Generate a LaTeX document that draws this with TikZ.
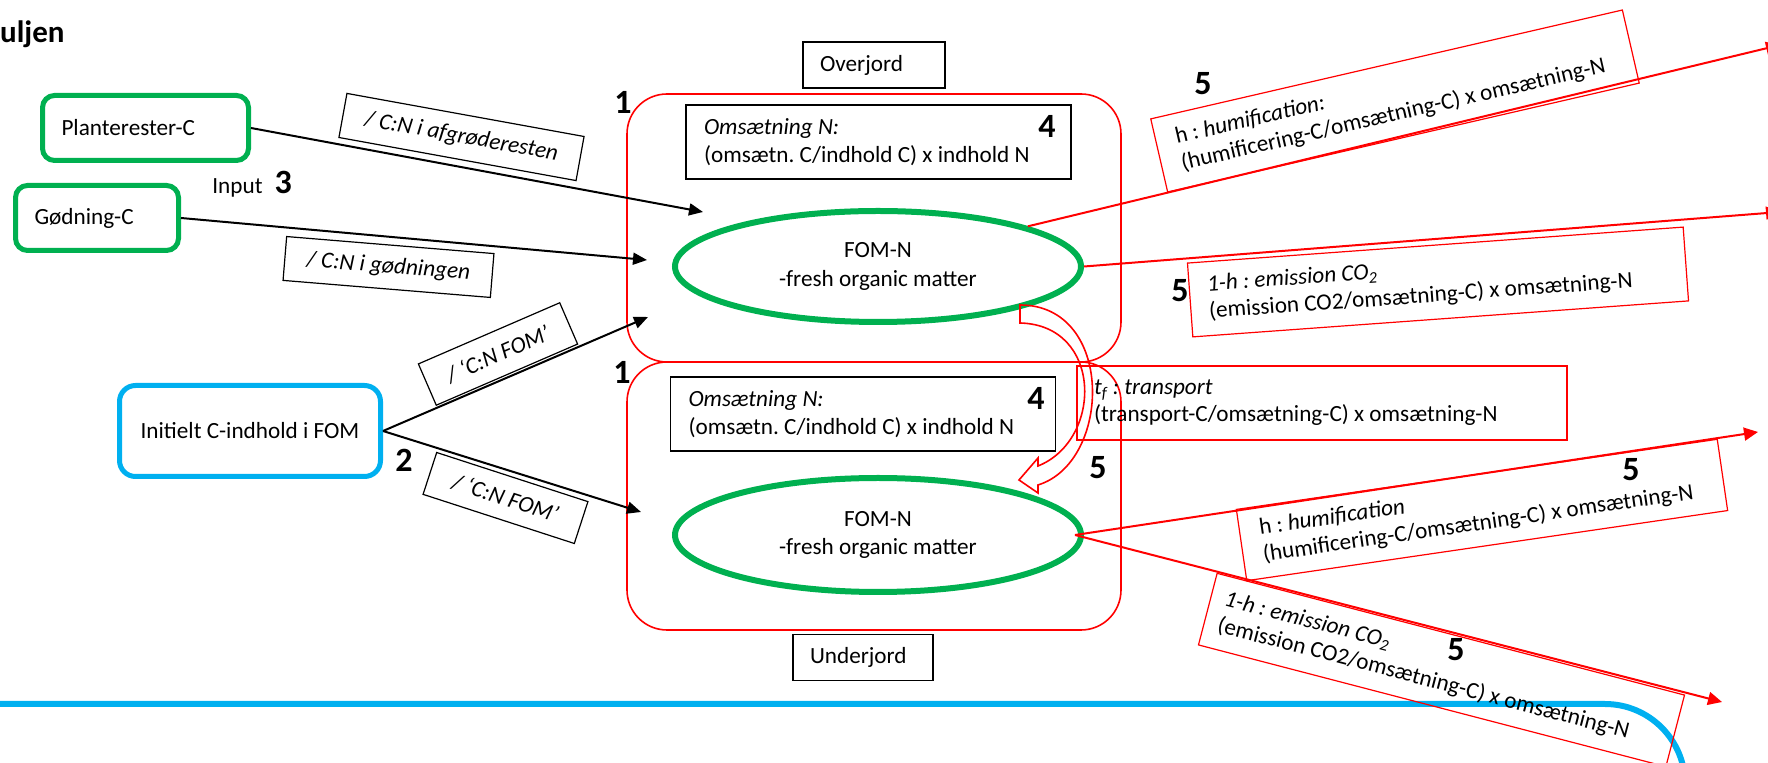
\documentclass[tikz,border=0pt]{standalone}
\usepackage{fontspec}
\setmainfont{Carlito}
\usetikzlibrary{shapes.geometric,arrows.meta}
\definecolor{ogreen}{RGB}{0,176,80}
\definecolor{oblue}{RGB}{0,176,240}
\definecolor{ored}{RGB}{255,0,0}
\frenchspacing
\newcommand{\fixw}[2]{\makebox[#1][l]{#2}}
\begin{document}
\begin{tikzpicture}[x=0.5pt,y=-0.5pt,
  every node/.style={font=\fontsize{11.6}{14}\selectfont},
  num/.style={font=\fontsize{17}{20}\selectfont\bfseries, inner sep=0pt},
  inbox/.style={draw=ogreen, line width=2.5pt, rounded corners=6pt, inner xsep=9.5pt, minimum height=32.5pt},
  lbl/.style={draw, line width=0.6pt, font=\fontsize{11.6}{14}\selectfont\itshape, minimum height=22pt, inner sep=2pt},
  rlbl/.style={draw=ored, line width=0.6pt, align=left, minimum height=37pt, font=\fontsize{11.6}{13.6}\selectfont},
  blk/.style={line width=1pt, -{Triangle[length=7pt,width=6pt]}},
  rarr/.style={ored, line width=1pt, -{Triangle[length=7pt,width=6.5pt]}},
  comp/.style={draw=ored, line width=0.8pt, rounded corners=20pt, minimum width=247pt, minimum height=134pt},
  fom/.style={ellipse, draw=ogreen, line width=3pt, minimum width=203pt, align=center, font=\fontsize{11.6}{14.2}\selectfont},
  omsbox/.style={draw, line width=0.7pt, align=left, inner xsep=9pt, minimum height=37pt, font=\fontsize{11.6}{14.2}\selectfont},
  soil/.style={draw, line width=0.9pt, inner xsep=8.5pt, minimum height=23pt}
]
\useasboundingbox (0,0) rectangle (1768,763);
\clip (0,0) rectangle (1768,763);

% blue frame line
\draw[oblue, line width=3pt, rounded corners=40pt] (-10,704) -- (1685,704) -- (1685,820);

% compartments
\node[comp] (top) at (874,228) {};
\node[comp] (bot) at (874,496) {};

\node[soil] (over) at (874,65) {\fixw{54pt}{Overjord}};
\node[soil] (under) at (863,657.5) {\fixw{53pt}{Underjord}};

\node[omsbox] (oms1) at (878.5,142) {\fixw{174.5pt}{\textit{Omsætning N:}}\\(omsætn. C/indhold C) x indhold N};
\node[omsbox] (oms2) at (863,414) {\fixw{174.5pt}{\textit{Omsætning N:}}\\(omsætn. C/indhold C) x indhold N};

\node[fom, minimum height=55.5pt] (ell1) at (878,266.5) {FOM-N\\-fresh organic matter};
\node[fom, minimum height=57pt] (ell2) at (878,535) {FOM-N\\-fresh organic matter};

% input boxes
\node[inbox] (plant) at (145.5,128) {\fixw{84pt}{Planterester-C}};
\node[inbox] (goed) at (97,218) {\fixw{62.5pt}{Gødning-C}};
\node[draw=oblue, line width=2.5pt, rounded corners=8pt, minimum width=130.5pt, minimum height=45.5pt] (init) at (250,431) {Initielt C-indhold i FOM};

% black label boxes
\node[lbl, rotate=-10.3, minimum width=120.5pt, minimum height=22.4pt] (l1) at (461.5,137) {/ C:N i afgrøderesten};
\node[lbl, rotate=-4.7, minimum width=104pt] (l2) at (388.5,267) {/ C:N i gødningen};
\node[lbl, rotate=23.4, minimum width=77pt, minimum height=22.5pt] (l3) at (498,354) {/ ‘C:N FOM’};
\node[lbl, rotate=-18, minimum width=79.5pt] (l4) at (505.5,498) {/ ‘C:N FOM’};

% black arrows
\coordinate (t1) at (703,212);
\coordinate (t2) at (647,260);
\coordinate (t3) at (648,317);
\coordinate (t4) at (641,512);
\draw[blk] (plant.east) -- (t1);
\draw[blk] (goed.east) -- (t2);
\draw[blk] (init.east) -- (t3);
\draw[blk] (init.east) -- (t4);

% red labels
\node[rlbl, rotate=13, inner xsep=10pt, minimum height=37.5pt] (hum1) at (1395,101) {\fixw{222pt}{h : \textit{humification:}}\\(humificering-C/omsætning-C) x omsætning-N};
\node[rlbl, rotate=4.15, inner xsep=9pt] (co1) at (1438,282) {\fixw{230.5pt}{\textit{1-h : emission CO\textsubscript{2}}}\\(emission CO2/omsætning-C) x omsætning-N};
\node[rlbl, rotate=8.3, inner xsep=10pt, minimum height=36pt] (hum2) at (1482,510) {\fixw{223pt}{h : \textit{humification}}\\(humificering-C/omsætning-C) x omsætning-N};
\node[rlbl, rotate=-14.6, inner xsep=7pt] (co2) at (1441.5,670) {\fixw{227.5pt}{\textit{1-h : emission CO\textsubscript{2}}}\\(emission CO2/omsætning-C) x omsætning-N};
\node[rlbl, inner xsep=8.5pt] (trans) at (1322,403) {\fixw{228pt}{\textit{t\textsubscript{f} : transport}}\\(transport-C/omsætning-C) x omsætning-N};

% red arrows
\coordinate (r1) at (1780,45);
\coordinate (r2) at (1780,212);
\coordinate (r3) at (1758,432);
\coordinate (r4) at (1722,702);
\draw[rarr] (ell1.15) -- (r1);
\draw[rarr] (ell1.east) -- (r2);
\draw[rarr] ([xshift=-4.5pt]ell2.east) -- (r3);
\draw[rarr] ([xshift=-4.5pt]ell2.east) -- (r4);

% transport block arrow
\draw[ored, line width=0.8pt] (1020,305) .. controls (1115,305) and (1112,462) .. (1038,485)
  -- (1038,493) -- (1019,480) -- (1038,458) -- (1038,466)
  .. controls (1103,440) and (1103,325) .. (1020,323) -- cycle;

% texts
\node[anchor=base east, inner sep=0pt, font=\fontsize{15.5}{18}\selectfont\bfseries] (title) at (65,43) {uljen};
\node[anchor=base west, inner sep=0pt] (input) at (212,194) {Input\hspace{6pt}{\fontsize{17}{20}\selectfont\bfseries 3}};

\node[num] (n1a) at (623,102) {1};
\node[num] (n1b) at (622,372) {1};
\node[num] (n2) at (404,460) {2};
\node[num] (n4a) at (1047,126) {4};
\node[num] (n4b) at (1036,398) {4};
\node[num] (n5a) at (1203,84) {5};
\node[num] (n5b) at (1180,291) {5};
\node[num] (n5c) at (1098,468) {5};
\node[num] (n5d) at (1631,470) {5};
\node[num] (n5e) at (1456,650) {5};
\end{tikzpicture}
\end{document}
